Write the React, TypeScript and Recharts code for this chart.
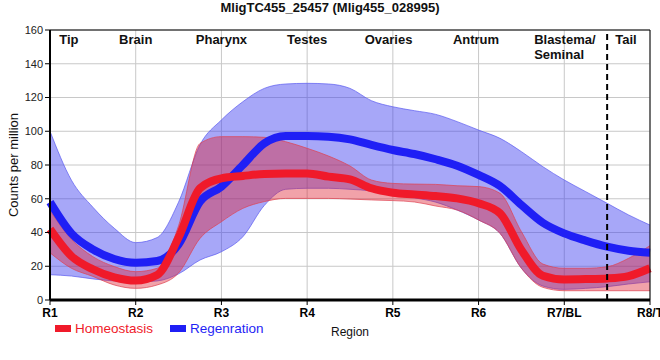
import React from 'react';
import { ComposedChart, Area, Line, XAxis, YAxis, CartesianGrid, ReferenceLine, Legend } from 'recharts';

// sample positions along the body axis (1 = R1 ... 8 = R8/T)
const positions = [1, 1.25, 1.5, 1.75, 2, 2.25, 2.5, 2.75, 3, 3.25, 3.5, 3.75, 4, 4.25, 4.5, 4.75, 5, 5.25, 5.5, 5.75, 6, 6.25, 6.5, 6.75, 7, 7.25, 7.5, 7.75, 8];

const homeostasisMean = [42, 26, 18.2, 13.4, 11.5, 14.8, 37, 66.2, 72.1, 73.5, 74.7, 75, 75, 73.1, 71.5, 66.2, 63.6, 62.6, 61.6, 60.2, 57.3, 51.4, 29.6, 14.4, 12.2, 12.4, 12.8, 14.2, 18.8];
const homeostasisLow = [28, 18.8, 14, 8.9, 6.9, 8.9, 16, 36.5, 46.4, 54.3, 58.3, 60.2, 60.2, 60.2, 59.8, 59.3, 58.9, 58.1, 55.7, 53.3, 47.4, 39.5, 18.8, 7.5, 5.5, 5.5, 5.5, 5.5, 5.5];
const homeostasisHigh = [53, 36, 25.7, 19.8, 16.8, 18.8, 44, 92.8, 96.8, 96.8, 96.4, 93.8, 89.9, 85.3, 79.4, 71.1, 69.1, 68.7, 68.5, 67.7, 67.2, 63.2, 40.5, 21.3, 18.8, 18.8, 19.7, 24.7, 32.2];

const regenerationMean = [58, 39.5, 30, 24.3, 22.1, 23.1, 33, 58.3, 67.2, 80, 92.8, 97.2, 97.2, 96.8, 95.2, 91.9, 88.9, 86.5, 83.4, 79.6, 74.1, 67.5, 56.3, 45.8, 39.5, 35.2, 31.6, 29.2, 28];
const regenerationLow = [15, 14.2, 12.5, 11.3, 10.7, 11.3, 15.5, 23.7, 28.6, 37.5, 56, 65.6, 66.2, 66.2, 65.6, 64.6, 62, 60.5, 58, 53.3, 47.4, 39.5, 18.8, 8.3, 6.3, 6.9, 7.9, 9.5, 10.8];
const regenerationHigh = [100, 71, 55, 42.5, 34, 37, 58, 92, 106.7, 117.5, 125.4, 128, 128.4, 128, 125.4, 118.1, 114.5, 112.2, 110, 105.7, 100.7, 95.8, 87.9, 79, 71.1, 64.2, 57.3, 50.4, 44.4];

const regionTicks = [1, 2, 3, 4, 5, 6, 7, 8];
const regionTickLabels = ['R1', 'R2', 'R3', 'R4', 'R5', 'R6', 'R7/BL', 'R8/T'];
const countTicks = [0, 20, 40, 60, 80, 100, 120, 140, 160];

const tissueAt = [1.22, 2, 3, 4, 4.95, 5.97, 7.01, 7.72];
const tissueNames = ['Tip', 'Brain', 'Pharynx', 'Testes', 'Ovaries', 'Antrum', 'Blastema/\nSeminal', 'Tail'];

const tailBoundary = 7.5;

const RED = '#f01a2a';
const BLUE = '#1f1ff5';

const data = positions.map((x, i) => ({
  x,
  homeostasis: homeostasisMean[i],
  homeostasisRange: [homeostasisLow[i], homeostasisHigh[i]],
  regeneration: regenerationMean[i],
  regenerationRange: [regenerationLow[i], regenerationHigh[i]],
}));

const TissueName = (props: any) => {
  const { x, y, payload } = props;
  const idx = tissueAt.indexOf(payload.value);
  if (idx < 0) return null;
  const lines = tissueNames[idx].split('\n');
  const multi = lines.length > 1;
  const tx = multi ? x - 31 : x;
  return (
    <text x={tx} y={y + 14} textAnchor={multi ? 'start' : 'middle'} fontSize={13} fontWeight="bold" fill="#111">
      {lines.map((l, i) => (
        <tspan key={i} x={tx} dy={i === 0 ? 0 : 15}>{l}</tspan>
      ))}
    </text>
  );
};

const CountsTitle = ({ viewBox }: any) => {
  const cx = viewBox.x + 13;
  const cy = viewBox.y + viewBox.height / 2;
  return (
    <text x={cx} y={cy} transform={`rotate(-90 ${cx} ${cy})`} textAnchor="middle" dominantBaseline="central" fontSize={13} fill="#111">
      Counts per million
    </text>
  );
};

const RegionTitle = ({ viewBox }: any) => (
  <text x={viewBox.x + viewBox.width / 2} y={viewBox.y + 36} textAnchor="middle" fontSize={12} fill="#111">
    Region
  </text>
);

const renderLegend = (props: any) => {
  const items = (props.payload || [])
    .filter((p: any) => p.type !== 'none')
    .sort((a: any, b: any) => String(a.value).localeCompare(String(b.value)));
  return (
    <div style={{ display: 'flex', alignItems: 'center', fontSize: 13.5 }}>
      {items.map((p: any) => (
        <div key={p.value} style={{ display: 'flex', alignItems: 'center', marginRight: 17 }}>
          <span style={{ display: 'inline-block', width: 16, height: 7, background: p.color, marginRight: 4 }} />
          <span style={{ color: p.color }}>{p.value}</span>
        </div>
      ))}
    </div>
  );
};

export default function App() {
  return (
    <div style={{ position: 'absolute', top: 0, left: 0, fontFamily: '"Liberation Sans", Arial, sans-serif' }}>
      <ComposedChart
        width={660}
        height={360}
        data={data}
        margin={{ top: 30, right: 10, bottom: 30, left: 0 }}
        style={{ fontFamily: '"Liberation Sans", Arial, sans-serif' }}
      >
        <text x={330} y={12} textAnchor="middle" fontSize={13} fontWeight="bold" fill="#111">
          MligTC455_25457 (Mlig455_028995)
        </text>
        <CartesianGrid stroke="#c8c8c8" />
        <XAxis
          dataKey="x"
          type="number"
          domain={[1, 8]}
          ticks={regionTicks}
          interval={0}
          tickFormatter={(v: number) => regionTickLabels[regionTicks.indexOf(v)]}
          axisLine={{ stroke: '#000', strokeWidth: 3 }}
          tickLine={{ stroke: '#000' }}
          tickSize={5}
          tickMargin={3}
          tick={{ fill: '#000', fontSize: 12, fontWeight: 'bold' }}
          height={30}
          label={<RegionTitle />}
        />
        <XAxis
          xAxisId="top"
          dataKey="x"
          orientation="top"
          type="number"
          domain={[1, 8]}
          allowDataOverflow
          ticks={tissueAt}
          interval={0}
          mirror
          tickLine={false}
          tickSize={0}
          tickMargin={0}
          axisLine={{ stroke: '#000' }}
          tick={<TissueName />}
        />
        <YAxis
          type="number"
          domain={[0, 160]}
          ticks={countTicks}
          interval={0}
          width={50}
          axisLine={{ stroke: '#000', strokeWidth: 2 }}
          tickLine={{ stroke: '#000' }}
          tickSize={5}
          tick={{ fill: '#222', fontSize: 11 }}
          label={<CountsTitle />}
        />
        <Area
          type="monotone"
          dataKey="regenerationRange"
          name="Regenration band"
          fill="#3b3bf0"
          fillOpacity={0.45}
          stroke="#5a5af0"
          strokeOpacity={0.7}
          strokeWidth={1}
          legendType="none"
          isAnimationActive={false}
        />
        <Line
          type="monotone"
          dataKey="regeneration"
          name="Regenration"
          stroke={BLUE}
          strokeWidth={8}
          dot={false}
          legendType="rect"
          isAnimationActive={false}
        />
        <Area
          type="monotone"
          dataKey="homeostasisRange"
          name="Homeostasis band"
          fill="#dd2233"
          fillOpacity={0.42}
          stroke="#e04050"
          strokeOpacity={0.7}
          strokeWidth={1}
          legendType="none"
          isAnimationActive={false}
        />
        <Line
          type="monotone"
          dataKey="homeostasis"
          name="Homeostasis"
          stroke={RED}
          strokeWidth={8}
          dot={false}
          legendType="rect"
          isAnimationActive={false}
        />
        <ReferenceLine x={tailBoundary} stroke="#000" strokeWidth={2} strokeDasharray="6 4" />
        <ReferenceLine x={8} stroke="#000" strokeWidth={1} />
        <Legend
          layout="horizontal"
          align="center"
          verticalAlign="middle"
          wrapperStyle={{ left: 55, top: 321, width: 'auto' }}
          content={renderLegend}
        />
      </ComposedChart>
    </div>
  );
}
